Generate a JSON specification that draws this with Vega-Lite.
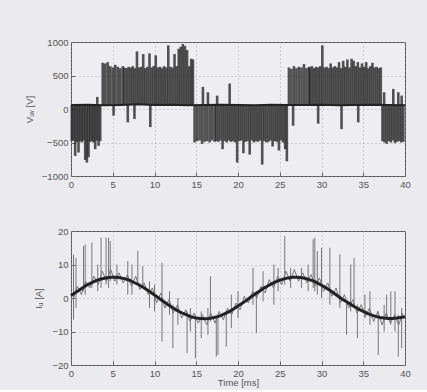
{
  "$schema": "https://vega.github.io/schema/vega-lite/v6.json",
  "background": "#eaeaef",
  "padding": {"left": 23, "top": 36, "right": 21, "bottom": 2},
  "spacing": 36,
  "config": {
    "font": "Liberation Sans",
    "view": {"stroke": "#555", "strokeWidth": 1, "fill": "#eeeef2"},
    "axis": {
      "labelFont": "Liberation Sans", "labelFontSize": 9.5, "labelColor": "#555",
      "labelOverlap": false, "labelFlush": false, "labelBound": false, "format": "d",
      "titleFont": "Liberation Sans", "titleFontSize": 9.5, "titleColor": "#555", "titleFontWeight": "normal",
      "domain": false, "tickColor": "#666", "tickSize": -4, "labelPadding": 7,
      "grid": true, "gridColor": "#999", "gridDash": [1, 3], "gridOpacity": 0.8
    }
  },
  "datasets": {
    "pwm": [
      {"t":0.1,"v":-480},{"t":0.3,"v":-470},{"t":0.5,"v":-700},{"t":0.7,"v":-490},{"t":0.9,"v":-650},{"t":1.1,"v":-480},{"t":1.3,"v":-500},{"t":1.5,"v":-470},{"t":1.7,"v":-760},{"t":1.9,"v":-800},{"t":2.1,"v":-720},{"t":2.3,"v":-490},{"t":2.5,"v":-480},{"t":2.7,"v":-500},{"t":2.9,"v":-600},{"t":3.1,"v":-470},{"t":3.3,"v":-550},{"t":3.5,"v":-480},{"t":3.15,"v":180},
      {"t":3.8,"v":690},{"t":4.1,"v":680},{"t":4.4,"v":700},{"t":4.7,"v":640},{"t":5.0,"v":620},{"t":5.3,"v":660},{"t":5.6,"v":630},{"t":5.9,"v":610},{"t":6.2,"v":640},{"t":5.1,"v":-100},{"t":6.8,"v":-200},
      {"t":6.4,"v":620},{"t":6.65,"v":610},{"t":6.9,"v":630},{"t":7.15,"v":620},{"t":7.4,"v":640},{"t":7.65,"v":610},{"t":7.9,"v":860},{"t":8.15,"v":620},{"t":8.4,"v":630},{"t":8.65,"v":820},{"t":8.9,"v":610},{"t":9.15,"v":630},{"t":9.4,"v":830},{"t":9.65,"v":620},{"t":9.9,"v":640},{"t":10.15,"v":800},{"t":10.4,"v":620},{"t":10.65,"v":630},{"t":10.9,"v":610},{"t":11.15,"v":640},{"t":11.4,"v":620},{"t":11.65,"v":950},{"t":11.9,"v":630},{"t":12.15,"v":620},{"t":12.4,"v":820},{"t":12.65,"v":640},{"t":12.9,"v":900},{"t":13.15,"v":930},{"t":13.4,"v":970},{"t":13.65,"v":940},{"t":13.9,"v":880},{"t":14.15,"v":640},{"t":14.4,"v":750},{"t":14.6,"v":740},{"t":9.5,"v":-270},{"t":7.6,"v":-150},
      {"t":14.8,"v":-500},{"t":15.1,"v":-480},{"t":15.4,"v":-470},{"t":15.7,"v":-520},{"t":16.0,"v":-490},{"t":16.3,"v":-480},{"t":16.6,"v":-500},{"t":16.9,"v":-470},{"t":17.2,"v":-490},{"t":15.8,"v":330},{"t":16.4,"v":250},{"t":17.5,"v":200},{"t":19.0,"v":380},
      {"t":17.4,"v":-480},{"t":17.65,"v":-490},{"t":17.9,"v":-470},{"t":18.15,"v":-600},{"t":18.4,"v":-480},{"t":18.65,"v":-500},{"t":18.9,"v":-470},{"t":19.15,"v":-490},{"t":19.4,"v":-480},{"t":19.65,"v":-500},{"t":19.9,"v":-800},{"t":20.15,"v":-480},{"t":20.4,"v":-470},{"t":20.65,"v":-660},{"t":20.9,"v":-490},{"t":21.15,"v":-480},{"t":21.4,"v":-680},{"t":21.65,"v":-470},{"t":21.9,"v":-500},{"t":22.15,"v":-480},{"t":22.4,"v":-490},{"t":22.65,"v":-470},{"t":22.9,"v":-830},{"t":23.15,"v":-480},{"t":23.4,"v":-500},{"t":23.65,"v":-490},{"t":23.9,"v":-470},{"t":24.15,"v":-560},{"t":24.4,"v":-480},{"t":24.65,"v":-490},{"t":24.9,"v":-620},{"t":25.15,"v":-470},{"t":25.4,"v":-500},{"t":25.65,"v":-600},{"t":25.85,"v":-780},
      {"t":26.1,"v":620},{"t":26.4,"v":600},{"t":26.7,"v":640},{"t":27.0,"v":610},{"t":27.3,"v":630},{"t":27.6,"v":620},{"t":27.9,"v":670},{"t":28.2,"v":610},{"t":28.5,"v":630},{"t":26.6,"v":-250},{"t":29.6,"v":-220},{"t":32.4,"v":-300},{"t":34.4,"v":-200},
      {"t":28.6,"v":620},{"t":28.85,"v":640},{"t":29.1,"v":610},{"t":29.35,"v":630},{"t":29.6,"v":620},{"t":29.85,"v":640},{"t":30.1,"v":950},{"t":30.35,"v":620},{"t":30.6,"v":630},{"t":30.85,"v":610},{"t":31.1,"v":680},{"t":31.35,"v":620},{"t":31.6,"v":640},{"t":31.85,"v":620},{"t":32.1,"v":700},{"t":32.35,"v":610},{"t":32.6,"v":720},{"t":32.85,"v":630},{"t":33.1,"v":740},{"t":33.35,"v":620},{"t":33.6,"v":750},{"t":33.85,"v":720},{"t":34.1,"v":640},{"t":34.35,"v":700},{"t":34.6,"v":620},{"t":34.85,"v":680},{"t":35.1,"v":630},{"t":35.35,"v":700},{"t":35.6,"v":610},{"t":35.85,"v":640},{"t":36.1,"v":690},{"t":36.35,"v":620},{"t":36.6,"v":630},{"t":36.85,"v":610},{"t":37.1,"v":620},
      {"t":37.3,"v":-480},{"t":37.55,"v":-500},{"t":37.8,"v":-520},{"t":38.05,"v":-480},{"t":38.3,"v":-500},{"t":38.55,"v":-470},{"t":38.8,"v":-510},{"t":39.05,"v":-490},{"t":39.3,"v":-480},{"t":39.55,"v":-500},{"t":39.8,"v":-490},{"t":37.5,"v":250},{"t":38.6,"v":300},{"t":39.2,"v":250},{"t":39.6,"v":200}
    ],
    "base": [
      {"t":0,"v":60},{"t":2,"v":65},{"t":4,"v":55},{"t":6,"v":60},{"t":8,"v":70},{"t":10,"v":60},{"t":12,"v":65},{"t":14,"v":55},{"t":16,"v":60},{"t":18,"v":65},{"t":20,"v":60},{"t":22,"v":55},{"t":24,"v":65},{"t":26,"v":60},{"t":28,"v":60},{"t":30,"v":65},{"t":32,"v":55},{"t":34,"v":60},{"t":36,"v":65},{"t":38,"v":60},{"t":40,"v":55}
    ],
    "smooth": [
      {"t":0,"i":0.7},{"t":0.5,"i":1.6},{"t":1,"i":2.4},{"t":1.5,"i":3.2},{"t":2,"i":4.0},{"t":2.5,"i":4.6},{"t":3,"i":5.2},{"t":3.5,"i":5.6},{"t":4,"i":5.9},{"t":4.5,"i":6.1},{"t":5,"i":6.2},{"t":5.5,"i":6.2},{"t":6,"i":6.0},{"t":6.5,"i":5.7},{"t":7,"i":5.3},{"t":7.5,"i":4.7},{"t":8,"i":4.1},{"t":8.5,"i":3.4},{"t":9,"i":2.6},{"t":9.5,"i":1.8},{"t":10,"i":0.9},{"t":10.5,"i":0.0},{"t":11,"i":-0.9},{"t":11.5,"i":-1.8},{"t":12,"i":-2.6},{"t":12.5,"i":-3.4},{"t":13,"i":-4.1},{"t":13.5,"i":-4.7},{"t":14,"i":-5.2},{"t":14.5,"i":-5.7},{"t":15,"i":-6.0},{"t":15.5,"i":-6.1},{"t":16,"i":-6.2},{"t":16.5,"i":-6.1},{"t":17,"i":-5.9},{"t":17.5,"i":-5.6},{"t":18,"i":-5.2},{"t":18.5,"i":-4.6},{"t":19,"i":-4.0},{"t":19.5,"i":-3.2},{"t":20,"i":-2.4},{"t":20.5,"i":-1.6},{"t":21,"i":-0.7},{"t":21.5,"i":0.2},{"t":22,"i":1.1},{"t":22.5,"i":1.9},{"t":23,"i":2.8},{"t":23.5,"i":3.5},{"t":24,"i":4.2},{"t":24.5,"i":4.8},{"t":25,"i":5.3},{"t":25.5,"i":5.7},{"t":26,"i":6.0},{"t":26.5,"i":6.2},{"t":27,"i":6.2},{"t":27.5,"i":6.1},{"t":28,"i":5.9},{"t":28.5,"i":5.5},{"t":29,"i":5.1},{"t":29.5,"i":4.5},{"t":30,"i":3.8},{"t":30.5,"i":3.1},{"t":31,"i":2.3},{"t":31.5,"i":1.4},{"t":32,"i":0.5},{"t":32.5,"i":-0.4},{"t":33,"i":-1.1},{"t":33.5,"i":-1.9},{"t":34,"i":-2.7},{"t":34.5,"i":-3.4},{"t":35,"i":-4.0},{"t":35.5,"i":-4.6},{"t":36,"i":-5.1},{"t":36.5,"i":-5.5},{"t":37,"i":-5.8},{"t":37.5,"i":-6.0},{"t":38,"i":-6.1},{"t":38.5,"i":-6.1},{"t":39,"i":-6.0},{"t":39.5,"i":-5.8},{"t":40,"i":-5.6}
    ],
    "noisy": [
      {"t":0.25,"i":-0.5},{"t":0.75,"i":3.5},{"t":1.25,"i":1.0},{"t":1.75,"i":5.0},{"t":2.25,"i":3.0},{"t":2.75,"i":6.5},{"t":3.25,"i":4.0},{"t":3.75,"i":8.0},{"t":4.25,"i":5.0},{"t":4.75,"i":8.5},{"t":5.25,"i":5.0},{"t":5.75,"i":7.5},{"t":6.25,"i":4.5},{"t":6.75,"i":7.0},{"t":7.25,"i":3.5},{"t":7.75,"i":6.5},{"t":8.25,"i":2.5},{"t":8.75,"i":4.5},{"t":9.25,"i":1.0},{"t":9.75,"i":3.0},{"t":10.25,"i":-1.5},{"t":10.75,"i":1.5},{"t":11.25,"i":-3.0},{"t":11.75,"i":-0.5},{"t":12.25,"i":-4.5},{"t":12.75,"i":-2.0},{"t":13.25,"i":-6.0},{"t":13.75,"i":-3.5},{"t":14.25,"i":-7.0},{"t":14.75,"i":-4.5},{"t":15.25,"i":-7.5},{"t":15.75,"i":-5.0},{"t":16.25,"i":-8.0},{"t":16.75,"i":-4.5},{"t":17.25,"i":-7.5},{"t":17.75,"i":-4.0},{"t":18.25,"i":-6.5},{"t":18.75,"i":-3.0},{"t":19.25,"i":-5.0},{"t":19.75,"i":-1.5},{"t":20.25,"i":-3.5},{"t":20.75,"i":0.5},{"t":21.25,"i":-1.5},{"t":21.75,"i":2.0},{"t":22.25,"i":0.0},{"t":22.75,"i":3.5},{"t":23.25,"i":1.5},{"t":23.75,"i":5.5},{"t":24.25,"i":3.0},{"t":24.75,"i":6.5},{"t":25.25,"i":4.0},{"t":25.75,"i":8.0},{"t":26.25,"i":5.0},{"t":26.75,"i":8.5},{"t":27.25,"i":5.0},{"t":27.75,"i":7.5},{"t":28.25,"i":4.5},{"t":28.75,"i":7.0},{"t":29.25,"i":3.5},{"t":29.75,"i":6.0},{"t":30.25,"i":2.0},{"t":30.75,"i":4.5},{"t":31.25,"i":0.5},{"t":31.75,"i":3.0},{"t":32.25,"i":-1.5},{"t":32.75,"i":1.0},{"t":33.25,"i":-3.0},{"t":33.75,"i":-0.5},{"t":34.25,"i":-4.5},{"t":34.75,"i":-2.0},{"t":35.25,"i":-5.5},{"t":35.75,"i":-3.0},{"t":36.25,"i":-7.0},{"t":36.75,"i":-4.0},{"t":37.25,"i":-8.0},{"t":37.75,"i":-4.5},{"t":38.25,"i":-7.5},{"t":38.75,"i":-5.0},{"t":39.25,"i":-8.0},{"t":39.75,"i":-4.5}
    ],
    "spikes": [
      {"t":0.3,"lo":-6.5,"hi":13},{"t":0.6,"lo":-3,"hi":12},{"t":1.5,"lo":2,"hi":15.5},{"t":1.7,"lo":1,"hi":16},{"t":2.5,"lo":3,"hi":16.5},{"t":3.2,"lo":2,"hi":10},{"t":3.6,"lo":3,"hi":18},{"t":4.2,"lo":4,"hi":18},{"t":4.5,"lo":3,"hi":18},{"t":4.7,"lo":5,"hi":17},{"t":5.5,"lo":4,"hi":10},{"t":6.8,"lo":1,"hi":11},{"t":7.3,"lo":1,"hi":10},{"t":8.0,"lo":4,"hi":14},{"t":8.6,"lo":3,"hi":9.5},{"t":9.4,"lo":-3,"hi":5},{"t":10.0,"lo":-4,"hi":4},{"t":10.9,"lo":-13,"hi":10.5},{"t":11.8,"lo":-5,"hi":2},{"t":12.2,"lo":-15,"hi":-2},{"t":12.8,"lo":-8,"hi":0},{"t":13.9,"lo":-16.5,"hi":-4},{"t":14.3,"lo":-10,"hi":-3},{"t":14.9,"lo":-18,"hi":-5},{"t":15.6,"lo":-12,"hi":-4},{"t":16.4,"lo":-11,"hi":-3},{"t":16.7,"lo":-7,"hi":6.5},{"t":17.4,"lo":-17.5,"hi":-6},{"t":17.6,"lo":-17,"hi":-5},{"t":18.6,"lo":-14.5,"hi":-4},{"t":19.2,"lo":-9,"hi":1},{"t":20.0,"lo":-6,"hi":2},{"t":21.8,"lo":-2,"hi":9},{"t":22.2,"lo":-10.5,"hi":2},{"t":23.0,"lo":-1,"hi":8},{"t":24.3,"lo":-2,"hi":10},{"t":24.8,"lo":2,"hi":9},{"t":25.6,"lo":4,"hi":18.5},{"t":26.3,"lo":3,"hi":9},{"t":27.6,"lo":3,"hi":9},{"t":28.4,"lo":2,"hi":10},{"t":29.0,"lo":3,"hi":17.5},{"t":29.2,"lo":2,"hi":18},{"t":29.5,"lo":1,"hi":14},{"t":30.0,"lo":0,"hi":15},{"t":31.0,"lo":-2,"hi":15},{"t":32.2,"lo":-3,"hi":13},{"t":33.0,"lo":-11,"hi":-1},{"t":33.5,"lo":-4,"hi":10},{"t":33.9,"lo":-3,"hi":12},{"t":34.3,"lo":-12,"hi":-2},{"t":35.2,"lo":-6,"hi":1},{"t":35.8,"lo":-8,"hi":2},{"t":36.8,"lo":-17,"hi":-4},{"t":37.5,"lo":-10,"hi":-2},{"t":37.8,"lo":-6,"hi":1},{"t":38.3,"lo":-8,"hi":2},{"t":38.8,"lo":-10,"hi":2},{"t":39.2,"lo":-17.5,"hi":-5},{"t":39.6,"lo":-15,"hi":-3}
    ]
  },
  "vconcat": [
    {
      "width": 334, "height": 134,
      "layer": [
        {
          "data": {"name": "pwm"},
          "mark": {"type": "rule", "color": "#262626", "strokeWidth": 2.6, "opacity": 0.78},
          "encoding": {
            "x": {"field": "t", "type": "quantitative", "scale": {"domain": [0, 40], "nice": false}, "axis": {"title": null, "values": [0,5,10,15,20,25,30,35,40], "labelOverlap": false}},
            "y": {"field": "v", "type": "quantitative", "scale": {"domain": [-1000, 1000], "nice": false}, "axis": {"title": "Vᵤᵥ [V]", "values": [-1000,-500,0,500,1000], "titlePadding": 7, "labelOverlap": false}},
            "y2": {"datum": 60}
          }
        },
        {
          "data": {"name": "base"},
          "mark": {"type": "line", "color": "#222", "strokeWidth": 2},
          "encoding": {
            "x": {"field": "t", "type": "quantitative", "scale": {"domain": [0, 40], "nice": false}, "axis": {"title": null, "values": [0,5,10,15,20,25,30,35,40], "labelOverlap": false}},
            "y": {"field": "v", "type": "quantitative", "scale": {"domain": [-1000, 1000], "nice": false}, "axis": {"title": "Vᵤᵥ [V]", "values": [-1000,-500,0,500,1000], "titlePadding": 7, "labelOverlap": false}}
          }
        }
      ]
    },
    {
      "width": 334, "height": 134,
      "layer": [
        {
          "data": {"name": "spikes"},
          "mark": {"type": "rule", "color": "#777", "strokeWidth": 1},
          "encoding": {
            "x": {"field": "t", "type": "quantitative", "scale": {"domain": [0, 40], "nice": false}, "axis": {"title": "Time [ms]", "values": [0,5,10,15,20,25,30,35,40], "titlePadding": 0, "labelOverlap": false}},
            "y": {"field": "lo", "type": "quantitative", "scale": {"domain": [-20, 20], "nice": false}, "axis": {"title": "Iᵤ [A]", "values": [-20,-10,0,10,20], "titlePadding": 8, "labelOverlap": false}},
            "y2": {"field": "hi"}
          }
        },
        {
          "data": {"name": "noisy"},
          "mark": {"type": "line", "color": "#777", "strokeWidth": 1},
          "encoding": {
            "x": {"field": "t", "type": "quantitative", "scale": {"domain": [0, 40], "nice": false}, "axis": {"title": "Time [ms]", "values": [0,5,10,15,20,25,30,35,40], "titlePadding": 0, "labelOverlap": false}},
            "y": {"field": "i", "type": "quantitative", "scale": {"domain": [-20, 20], "nice": false}, "axis": {"title": "Iᵤ [A]", "values": [-20,-10,0,10,20], "titlePadding": 8, "labelOverlap": false}}
          }
        },
        {
          "data": {"name": "smooth"},
          "mark": {"type": "line", "color": "#222", "strokeWidth": 3},
          "encoding": {
            "x": {"field": "t", "type": "quantitative", "scale": {"domain": [0, 40], "nice": false}, "axis": {"title": "Time [ms]", "values": [0,5,10,15,20,25,30,35,40], "titlePadding": 0, "labelOverlap": false}},
            "y": {"field": "i", "type": "quantitative", "scale": {"domain": [-20, 20], "nice": false}, "axis": {"title": "Iᵤ [A]", "values": [-20,-10,0,10,20], "titlePadding": 8, "labelOverlap": false}}
          }
        }
      ]
    }
  ]
}
